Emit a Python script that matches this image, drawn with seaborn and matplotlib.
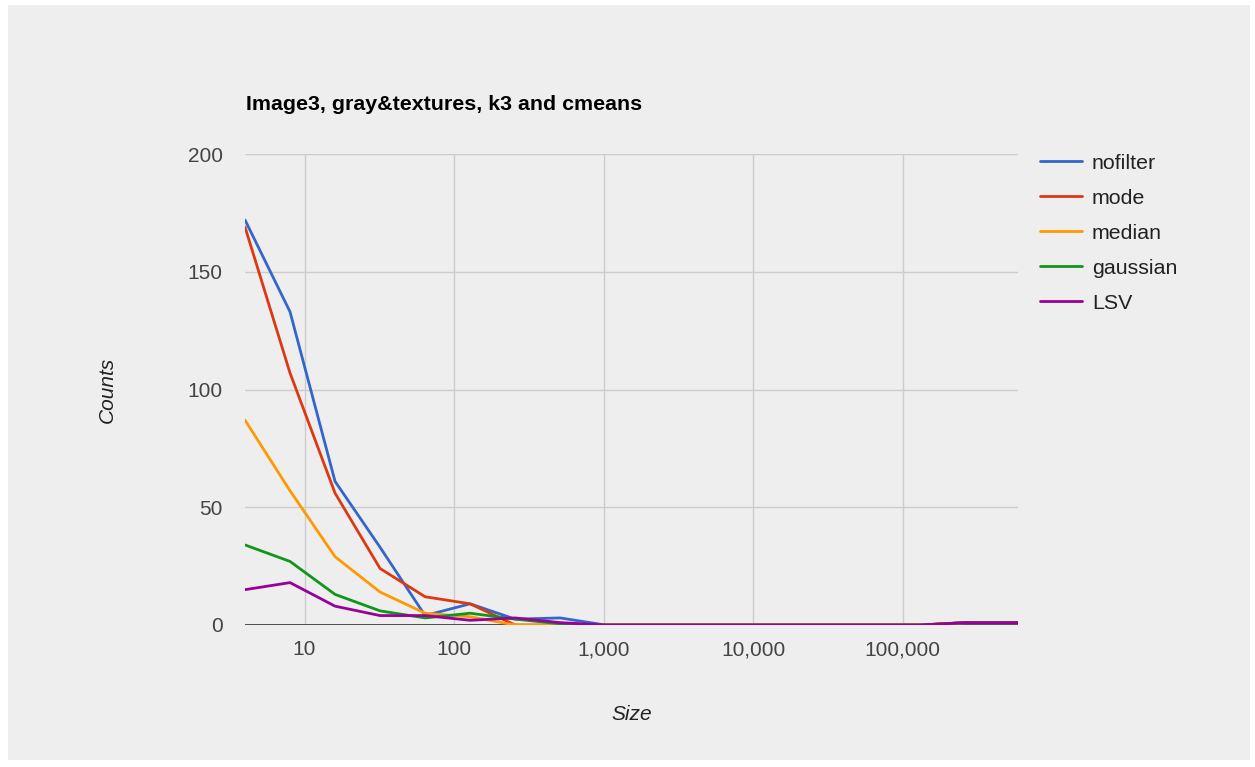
import numpy as np
import pandas as pd
import matplotlib
matplotlib.use("Agg")
import matplotlib.pyplot as plt
import matplotlib.ticker as mticker
from matplotlib.patches import Rectangle
import seaborn as sns

# Region sizes (pixels): powers of two, last bin is the full 768x768 image
sizes = [4, 8, 16, 32, 64, 128, 256, 512, 1024, 2048, 4096, 8192, 16384,
         32768, 65536, 131072, 262144, 589824]

nofilter = [172, 133, 61, 33, 4, 9, 2.5, 3, 0, 0, 0, 0, 0, 0, 0, 0, 1, 1]
mode     = [169, 107, 56, 24, 12, 9, 0, 0, 0, 0, 0, 0, 0, 0, 0, 0, 1, 1]
median   = [87, 57, 29, 14, 5, 3.5, 0, 0, 0, 0, 0, 0, 0, 0, 0, 0, 1, 1]
gaussian = [34, 27, 13, 6, 3, 5, 2.5, 0.5, 0, 0, 0, 0, 0, 0, 0, 0, 1, 1]
lsv      = [15, 18, 8, 4, 4, 2, 3, 1, 0, 0, 0, 0, 0, 0, 0, 0, 1, 1]

series_names = ["nofilter", "mode", "median", "gaussian", "LSV"]
colors = ["#3366cc", "#dc3912", "#ff9900", "#109618", "#990099"]

frames = []
for name, vals in zip(series_names, [nofilter, mode, median, gaussian, lsv]):
    frames.append(pd.DataFrame({"Size": sizes, "Counts": vals, "series": name}))
df = pd.concat(frames, ignore_index=True)

sns.set_theme(style="white")
plt.rcParams["font.family"] = ["Liberation Sans", "DejaVu Sans"]

bg = "#eeeeee"
fig = plt.figure(figsize=(12.55, 7.67), dpi=100, facecolor="white")
fig.patches.append(Rectangle((8 / 1255, 1 - 760 / 767), (1250 - 8) / 1255, (760 - 5) / 767,
                             transform=fig.transFigure, facecolor=bg, edgecolor="none", zorder=-10))

ax = fig.add_axes([245 / 1255, 1 - 625 / 767, (1018 - 245) / 1255, (625 - 154) / 767])
ax.set_facecolor(bg)
ax.set_zorder(1)

sns.lineplot(data=df, x="Size", y="Counts", hue="series", hue_order=series_names,
             palette=colors, linewidth=2, ax=ax, legend=False, estimator=None, sort=False)

ax.set_xscale("log")
ax.set_xlim(4, 589824)
ax.set_ylim(0, 200)

ax.xaxis.set_major_locator(mticker.FixedLocator([10, 100, 1000, 10000, 100000]))
ax.xaxis.set_minor_locator(mticker.NullLocator())
ax.xaxis.set_major_formatter(mticker.FuncFormatter(lambda v, p: f"{int(round(v)):,}"))
ax.yaxis.set_major_locator(mticker.FixedLocator([0, 50, 100, 150, 200]))

ax.grid(True, which="major", color="#cccccc", linewidth=1)
ax.set_axisbelow(True)
for side in ["top", "right", "left", "bottom"]:
    ax.spines[side].set_visible(False)
ax.axhline(0, color="#333333", linewidth=1.2, zorder=1.5)

ax.tick_params(axis="both", length=0, labelsize=15, labelcolor="#444444")
ax.tick_params(axis="x", pad=11)
ax.tick_params(axis="y", pad=16)

ax.set_xlabel("Size", fontsize=15, style="italic", color="#222222", labelpad=33)
ax.set_ylabel("Counts", fontsize=15, style="italic", color="#222222", labelpad=51)

fig.text(246 / 1255, 1 - 105 / 767, "Image3, gray&textures, k3 and cmeans",
         fontsize=15.4, fontweight="bold", color="#000000", va="center", ha="left")

handles = [plt.Line2D([], [], color=c, linewidth=2) for c in colors]
leg = fig.legend(handles, series_names, loc="upper left",
                 bbox_to_anchor=(1031 / 1255, 1 - 145 / 767), frameon=False,
                 fontsize=15.4, handlelength=2.0, handletextpad=0.45, labelspacing=0.75,
                 borderaxespad=0)
for t in leg.get_texts():
    t.set_color("#222222")

fig.savefig("out.png", dpi=100, facecolor="white")
